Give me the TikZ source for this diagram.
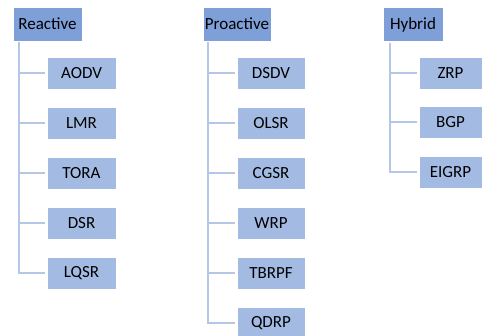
\documentclass[tikz,border=0pt]{standalone}
\usepackage{fontspec}
\setmainfont{Carlito}
\definecolor{parentfill}{HTML}{7F9FD9}
\definecolor{childfill}{HTML}{A3BBE3}
\definecolor{linkcol}{HTML}{B4C7E7}
\begin{document}
\begin{tikzpicture}[x=1pt,y=-1pt,
  parentbox/.style={draw=white,line width=0.6pt,fill=parentfill,inner sep=0pt,minimum height=34pt,font=\fontsize{17}{19}\selectfont,text=black},
  childbox/.style={draw=white,line width=0.6pt,fill=childfill,inner sep=0pt,minimum height=32pt,font=\fontsize{17}{19}\selectfont,text=black},
  link/.style={draw=linkcol,line width=2pt}]
\useasboundingbox (0,0) rectangle (482,336);
\clip (0,0) rectangle (482,336);
% Reactive
\node[parentbox,minimum width=69pt] (rea) at (47.5,24) {Reactive};
\node[childbox,minimum width=69pt] (aodv) at (81.5,73) {AODV};
\node[childbox,minimum width=69pt] (lmr) at (81.5,123) {LMR};
\node[childbox,minimum width=69pt] (tora) at (81.5,173) {TORA};
\node[childbox,minimum width=69pt] (dsr) at (81.5,223) {DSR};
\node[childbox,minimum width=69pt] (lqsr) at (81.5,273) {LQSR};
% Proactive
\node[parentbox,minimum width=68pt] (pro) at (237,24) {Proactive};
\node[childbox,minimum width=68pt] (dsdv) at (271,73) {DSDV};
\node[childbox,minimum width=68pt] (olsr) at (271,123) {OLSR};
\node[childbox,minimum width=68pt] (cgsr) at (271,173) {CGSR};
\node[childbox,minimum width=68pt] (wrp) at (271,223) {WRP};
\node[childbox,minimum width=68pt] (tbrpf) at (271,273) {TBRPF};
\node[childbox,minimum width=68pt] (qdrp) at (271,323) {QDRP};
% Hybrid
\node[parentbox,minimum width=60pt] (hyb) at (413,24.5) {Hybrid};
\node[childbox,minimum width=63pt] (zrp) at (450.5,73) {ZRP};
\node[childbox,minimum width=63pt] (bgp) at (450.5,122.5) {BGP};
\node[childbox,minimum width=63pt] (eigrp) at (450.5,172.5) {EIGRP};
% connectors
\foreach \c in {aodv,lmr,tora,dsr,lqsr}
  \draw[link] ([xshift=6pt,yshift=-1pt]rea.south west) |- ([xshift=-2pt]\c.west);
\foreach \c in {dsdv,olsr,cgsr,wrp,tbrpf,qdrp}
  \draw[link] ([xshift=5.5pt,yshift=-1pt]pro.south west) |- ([xshift=-2pt]\c.west);
\foreach \c in {zrp,bgp,eigrp}
  \draw[link] ([xshift=7pt,yshift=-1pt]hyb.south west) |- ([xshift=-2pt]\c.west);
\end{tikzpicture}
\end{document}
